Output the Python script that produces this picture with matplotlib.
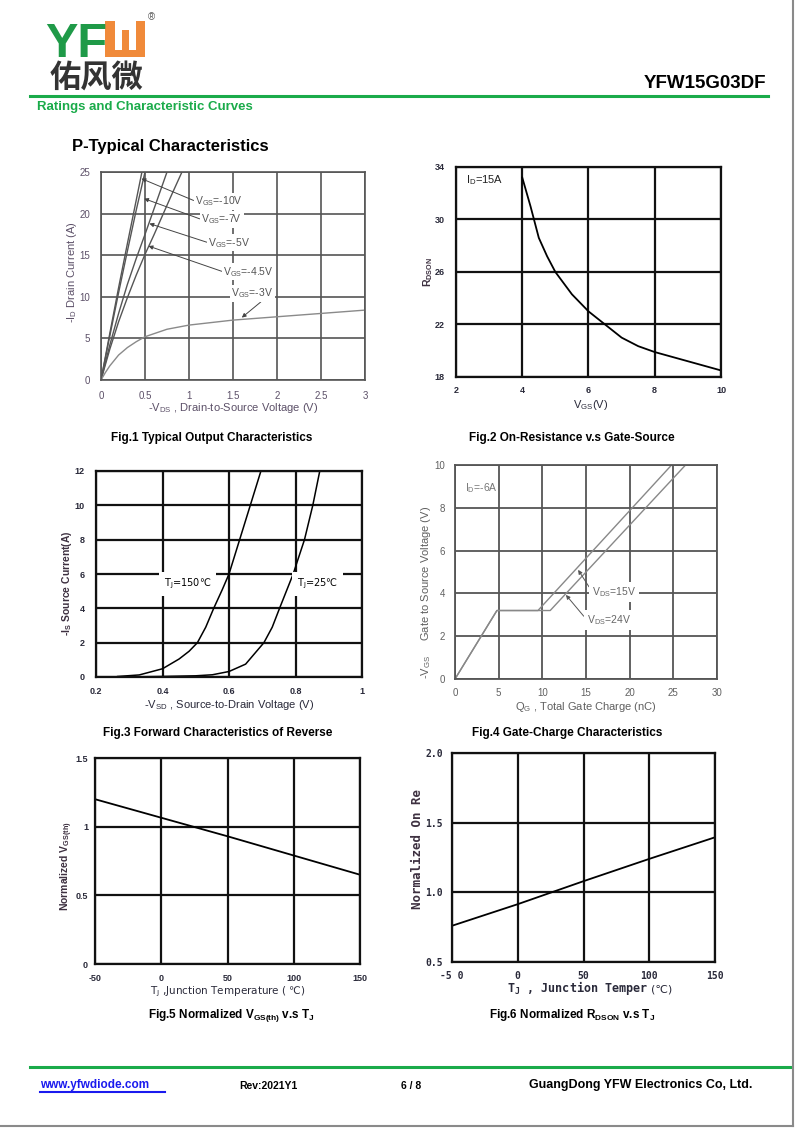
import matplotlib
matplotlib.use('Agg')
import matplotlib.pyplot as plt
from matplotlib.patches import Rectangle

plt.rcParams['font.family'] = ['Liberation Sans', 'DejaVu Sans']
plt.rcParams['mathtext.default'] = 'regular'

# Fig.1 output characteristics (-Vds, -Id)
vds_10v = [0, 0.1, 0.2, 0.3, 0.4, 0.465]
id_10v = [0, 5.6, 11.1, 16.4, 21.6, 25]
vds_7v = [0, 0.1, 0.2, 0.3, 0.4, 0.5]
id_7v = [0, 5.3, 10.5, 15.5, 20.4, 25]
vds_5v = [0, 0.1, 0.2, 0.3, 0.4, 0.5, 0.6, 0.75]
id_5v = [0, 4.2, 8.0, 11.5, 14.6, 17.5, 20.5, 25]
vds_45v = [0, 0.1, 0.2, 0.3, 0.4, 0.5, 0.6, 0.7, 0.8, 0.92]
id_45v = [0, 3.7, 7.0, 9.9, 12.6, 15.1, 17.4, 19.8, 22.2, 25]
vds_3v = [0, 0.05, 0.1, 0.2, 0.3, 0.4, 0.5, 0.75, 1.0, 1.5, 2.0, 2.5, 3.0]
id_3v = [0, 0.9, 1.7, 3.0, 3.9, 4.6, 5.2, 6.1, 6.6, 7.2, 7.6, 8.0, 8.4]
fig1_labels = ['V$_{GS}$=-10V', 'V$_{GS}$=-7V', 'V$_{GS}$=-5V', 'V$_{GS}$=-4.5V', 'V$_{GS}$=-3V']
fig1_text_xy = [(1.07, 21.5), (1.14, 19.3), (1.22, 16.5), (1.39, 13.0), (1.48, 10.4)]
fig1_arrow_xy = [(0.46, 24.2), (0.49, 21.8), (0.55, 18.8), (0.54, 16.1), (1.60, 7.5)]
fig1_xticks = [0, 0.5, 1, 1.5, 2, 2.5, 3]
fig1_xlabels = ['0', '0.5', '1', '1.5', '2', '2.5', '3']
fig1_yticks = [0, 5, 10, 15, 20, 25]

# Fig.2 on-resistance vs gate-source voltage
vgs = [4, 4.25, 4.5, 4.75, 5, 5.5, 6, 6.5, 7, 7.5, 8, 9, 10]
rdson = [33.2, 31.0, 28.6, 27.2, 26.0, 24.3, 23.0, 22.0, 21.0, 20.35, 19.9, 19.2, 18.5]
fig2_xticks = [2, 4, 6, 8, 10]
fig2_yticks = [18, 22, 26, 30, 34]

# Fig.3 body diode forward characteristics
vsd_150 = [0.265, 0.33, 0.4, 0.45, 0.48, 0.505, 0.53, 0.554, 0.58, 0.6, 0.632, 0.664, 0.696]
is_150 = [0.03, 0.12, 0.48, 1.05, 1.5, 2.0, 2.9, 4.0, 5.1, 6.0, 8.0, 10.0, 12.0]
vsd_25 = [0.33, 0.4, 0.5, 0.55, 0.6, 0.65, 0.705, 0.73, 0.752, 0.793, 0.827, 0.852, 0.873]
is_25 = [0.01, 0.03, 0.07, 0.13, 0.32, 0.75, 2.0, 2.9, 4.0, 6.0, 8.0, 10.0, 12.0]
fig3_xticks = [0.2, 0.4, 0.6, 0.8, 1]
fig3_xlabels = ['0.2', '0.4', '0.6', '0.8', '1']
fig3_yticks = [0, 2, 4, 6, 8, 10, 12]

# Fig.4 gate charge
qg_15 = [0, 4.8, 9.5, 24.8]
vg_15 = [0, 3.2, 3.2, 10]
qg_24 = [0, 4.8, 10.9, 26.4]
vg_24 = [0, 3.2, 3.2, 10]
fig4_xticks = [0, 5, 10, 15, 20, 25, 30]
fig4_yticks = [0, 2, 4, 6, 8, 10]

# Fig.5 / Fig.6 normalized vs junction temperature
tj = [-50, 0, 50, 100, 150]
vth_norm = [1.2, 1.065, 0.93, 0.79, 0.65]
ron_norm = [0.76, 0.915, 1.08, 1.24, 1.395]
fig5_yticks = [0, 0.5, 1, 1.5]
fig5_ylabels = ['0', '0.5', '1', '1.5']
fig6_xlabels = ['-5 0', '0', '50', '100', '150']
fig6_yticks = [0.5, 1.0, 1.5, 2.0]
fig6_ylabels = ['0.5', '1.0', '1.5', '2.0']

W, H = 800, 1130
fig = plt.figure(figsize=(8, 11.3), dpi=100)
fig.patch.set_facecolor('white')

page = fig.add_axes([0, 0, 1, 1])
page.set_xlim(0, W)
page.set_ylim(H, 0)
page.axis('off')

MONO = 'DejaVu Sans Mono'
DEJAVU = ['DejaVu Sans']


def make_axes(box, grid_color, grid_lw, tick_color, tick_size, tick_weight,
              xpad, ypad, family=None):
    l, t, r, b = box
    ax = fig.add_axes([l / W, 1 - b / H, (r - l) / W, (b - t) / H])
    ax.grid(True, color=grid_color, lw=grid_lw)
    ax.set_axisbelow(True)
    for s in ax.spines.values():
        s.set_color(grid_color)
        s.set_linewidth(grid_lw)
    ax.tick_params(length=0, labelsize=tick_size, labelcolor=tick_color)
    ax.tick_params(axis='x', pad=xpad)
    ax.tick_params(axis='y', pad=ypad)
    ax._tick_font = dict(fontweight=tick_weight, fontsize=tick_size, color=tick_color)
    if family:
        ax._tick_font['family'] = family
    return ax


def set_ticks(ax, xt, xl, yt, yl):
    ax.set_xticks(xt, xl, **ax._tick_font)
    ax.set_yticks(yt, yl, **ax._tick_font)


def place_labels(ax, box, xlab, xpos, ylab, ypos, xkw, ykw):
    l, t, r, b = box
    ax.set_xlabel(xlab, va='center', **xkw)
    ax.set_ylabel(ylab, va='center', **ykw)
    ax.xaxis.set_label_coords((xpos[0] - l) / (r - l), (b - xpos[1]) / (b - t))
    ax.yaxis.set_label_coords((ypos[0] - l) / (r - l), (b - ypos[1]) / (b - t))


# ---------- header ----------
orange = '#f08a3a'
page.text(45, 57, 'YF', color='#1f9a48', fontsize=35, fontweight='bold', va='baseline')
page.add_patch(Rectangle((105, 21), 40, 36, facecolor=orange, edgecolor='none'))
page.add_patch(Rectangle((115, 21), 21, 9, facecolor='white', edgecolor='none'))
page.add_patch(Rectangle((115, 21), 7, 29, facecolor='white', edgecolor='none'))
page.add_patch(Rectangle((129, 21), 7, 29, facecolor='white', edgecolor='none'))
page.text(148, 17, '®', fontsize=7, color='#555555', va='center')
page.text(50, 79, '佑风微', family=['Noto Sans CJK SC', 'DejaVu Sans'], fontweight='bold',
          fontsize=22.5, color='#333333', va='center')
page.text(766, 83, 'YFW15G03DF', fontsize=13.5, fontweight='bold', ha='right', va='center')
page.plot([30, 768], [96, 96], color='#1aab4a', lw=2.2)
page.text(37, 107, 'Ratings and Characteristic Curves', color='#1aab4a', fontsize=9.5,
          fontweight='bold', va='center')
page.text(72, 147, 'P-Typical Characteristics', fontsize=12, fontweight='bold', va='center')

# ---------- Fig.1 ----------
box1 = (101, 172, 365, 380)
ax1 = make_axes(box1, '#555555', 1.2, '#5c5068', 7, 'normal', 8, 8)
ax1.plot(vds_10v, id_10v, color='#555555', lw=1)
ax1.plot(vds_7v, id_7v, color='#555555', lw=1)
ax1.plot(vds_5v, id_5v, color='#555555', lw=1)
ax1.plot(vds_45v, id_45v, color='#555555', lw=1)
ax1.plot(vds_3v, id_3v, color='#8a8a8a', lw=1)
fig1_relpos = [(0, 0.5), (0, 0.5), (0, 0.5), (0, 0.5), (0.75, 0)]
for lab, txy, axy, rp in zip(fig1_labels, fig1_text_xy, fig1_arrow_xy, fig1_relpos):
    ax1.annotate(lab, xy=axy, xytext=txy, fontsize=7.5, color='#555555', va='center',
                 bbox=dict(boxstyle='square,pad=0.15', fc='white', ec='none'),
                 arrowprops=dict(arrowstyle='-|>', color='#444444', lw=0.7, mutation_scale=6,
                                 shrinkA=0, shrinkB=0, relpos=rp))
ax1.set_xlim(0, 3)
ax1.set_ylim(0, 25)
set_ticks(ax1, fig1_xticks, fig1_xlabels, fig1_yticks, [str(v) for v in fig1_yticks])
place_labels(ax1, box1, '-V$_{DS}$ , Drain-to-Source Voltage (V)', (233, 408),
             '-I$_D$ Drain Current (A)', (72, 272),
             dict(fontsize=8, color='#5c5068'), dict(fontsize=8, color='#5c5068'))

# ---------- Fig.2 ----------
box2 = (456, 167, 721, 377)
ax2 = make_axes(box2, '#111111', 1.6, '#2a2a3a', 6.5, 'bold', 6.5, 8)
ax2.plot(vgs, rdson, color='black', lw=1.3)
ax2.text(2.3, 33.0, 'I$_D$=15A', fontsize=8, color='#222222', va='center')
ax2.set_xlim(2, 10)
ax2.set_ylim(18, 34)
set_ticks(ax2, fig2_xticks, [str(v) for v in fig2_xticks], fig2_yticks, [str(v) for v in fig2_yticks])
place_labels(ax2, box2, 'V$_{GS}$(V)', (591, 405), 'R$_{DSON}$', (428, 272),
             dict(fontsize=8, color='#2a2a3a'), dict(fontsize=7.5, fontweight='bold', color='#3d3040'))

# ---------- Fig.3 ----------
box3 = (96, 471, 362, 677)
ax3 = make_axes(box3, '#111111', 1.6, '#2a2a3a', 6.5, 'bold', 7.5, 8)
ax3.plot(vsd_150, is_150, color='black', lw=1.1)
ax3.plot(vsd_25, is_25, color='black', lw=1.1)
ax3.text(0.404, 5.44, 'T$_J$=150℃', fontsize=7, va='center', family=DEJAVU,
         bbox=dict(boxstyle='square,pad=0.5', fc='white', ec='none'))
ax3.text(0.805, 5.44, 'T$_J$=25℃', fontsize=7, va='center', family=DEJAVU,
         bbox=dict(boxstyle='square,pad=0.5', fc='white', ec='none'))
ax3.set_xlim(0.2, 1)
ax3.set_ylim(0, 12)
set_ticks(ax3, fig3_xticks, fig3_xlabels, fig3_yticks, [str(v) for v in fig3_yticks])
place_labels(ax3, box3, '-V$_{SD}$ , Source-to-Drain Voltage (V)', (229, 705),
             '-I$_S$ Source Current(A)', (67, 583),
             dict(fontsize=8, color='#2a2a3a'), dict(fontsize=7.5, fontweight='bold', color='#3d3040'))

# ---------- Fig.4 ----------
box4 = (455, 465, 717, 679)
ax4 = make_axes(box4, '#555555', 1.3, '#606060', 7, 'normal', 6.5, 7)
ax4.plot(qg_15, vg_15, color='#888888', lw=1)
ax4.plot(qg_24, vg_24, color='#888888', lw=1)
ax4.text(1.1, 8.9, 'I$_D$=-6A', fontsize=7.5, color='#777777', va='center')
ax4.annotate('V$_{DS}$=15V', xy=(14.1, 5.1), xytext=(15.7, 4.08), fontsize=7.5, color='#666666',
             va='center', bbox=dict(boxstyle='square,pad=0.3', fc='white', ec='none'),
             arrowprops=dict(arrowstyle='-|>', color='#555555', lw=0.7, mutation_scale=6,
                             shrinkA=0, shrinkB=0, relpos=(0, 0.5)))
ax4.annotate('V$_{DS}$=24V', xy=(12.7, 3.93), xytext=(15.1, 2.76), fontsize=7.5, color='#666666',
             va='center', bbox=dict(boxstyle='square,pad=0.3', fc='white', ec='none'),
             arrowprops=dict(arrowstyle='-|>', color='#555555', lw=0.7, mutation_scale=6,
                             shrinkA=0, shrinkB=0, relpos=(0, 0.5)))
ax4.set_xlim(0, 30)
ax4.set_ylim(0, 10)
set_ticks(ax4, fig4_xticks, [str(v) for v in fig4_xticks], fig4_yticks, [str(v) for v in fig4_yticks])
place_labels(ax4, box4, 'Q$_G$ , Total Gate Charge (nC)', (586, 707),
             '-V$_{GS}$     Gate to Source Voltage (V)', (426, 592),
             dict(fontsize=8, color='#606060'), dict(fontsize=8, color='#606060'))

# ---------- Fig.5 ----------
box5 = (95, 758, 360, 964)
ax5 = make_axes(box5, '#111111', 1.6, '#2a2a3a', 6.5, 'bold', 7, 5)
ax5.plot(tj, vth_norm, color='black', lw=1.3)
ax5.set_xlim(-50, 150)
ax5.set_ylim(0, 1.5)
set_ticks(ax5, tj, [str(v) for v in tj], fig5_yticks, fig5_ylabels)
place_labels(ax5, box5, 'T$_J$ ,Junction Temperature ( ℃)', (228, 992),
             'Normalized V$_{GS(th)}$', (67, 866),
             dict(fontsize=7.5, color='#2a2a3a', family=DEJAVU),
             dict(fontsize=7.5, fontweight='bold', color='#3d3040'))

# ---------- Fig.6 ----------
box6 = (452, 753, 715, 962)
ax6 = make_axes(box6, '#111111', 1.6, '#2a2a3a', 7, 'bold', 6.5, 6.5, family=MONO)
ax6.plot(tj, ron_norm, color='black', lw=1.3)
ax6.set_xlim(-50, 150)
ax6.set_ylim(0.5, 2.0)
set_ticks(ax6, tj, fig6_xlabels, fig6_yticks, fig6_ylabels)
ax6.set_xlabel('T$_J$ , Junction Temper', family=MONO, fontsize=8.5, fontweight='bold',
               color='#2a2a3a', ha='left', va='center')
ax6.xaxis.set_label_coords((507 - 452) / 263, (962 - 988) / 209)
ax6.set_ylabel('Normalized On Re', family=MONO, fontsize=9, fontweight='bold',
               color='#3d3040', va='center')
ax6.yaxis.set_label_coords((418 - 452) / 263, (962 - 849) / 209)
page.text(651, 989, '(℃)', fontsize=8, color='#2a2a3a', va='center', family=DEJAVU)

# ---------- captions ----------
cap = dict(fontsize=8.5, fontweight='bold', ha='center', va='center')
page.text(212, 438, 'Fig.1 Typical Output Characteristics', **cap)
page.text(572, 438, 'Fig.2 On-Resistance v.s Gate-Source', **cap)
page.text(218, 733, 'Fig.3 Forward Characteristics of Reverse', **cap)
page.text(567, 733, 'Fig.4 Gate-Charge Characteristics', **cap)
page.text(231, 1015, 'Fig.5 Normalized V$_{GS(th)}$ v.s T$_J$', **cap)
page.text(572, 1015, 'Fig.6 Normalized R$_{DSON}$ v.s T$_J$', **cap)

# ---------- footer ----------
page.plot([30, 790], [1067, 1067], color='#1aab4a', lw=2.2)
page.text(40, 1085, 'www.yfwdiode.com', color='#1a1aee', fontsize=8.5, fontweight='bold', va='center')
page.plot([40, 165], [1092, 1092], color='#1a1aee', lw=1.5)
page.text(239, 1086, 'Rev:2021Y1', fontsize=7.5, fontweight='bold', va='center')
page.text(401, 1086, '6 / 8', fontsize=7.5, fontweight='bold', va='center')
page.text(529, 1085, 'GuangDong YFW Electronics Co, Ltd.', fontsize=9, fontweight='bold', va='center')

# page edge
page.plot([793, 793], [0, 1126], color='#8a8a8a', lw=1.5)
page.plot([0, 793], [1126, 1126], color='#8a8a8a', lw=1.5)

fig.savefig('out.png', dpi=100, facecolor='white')
